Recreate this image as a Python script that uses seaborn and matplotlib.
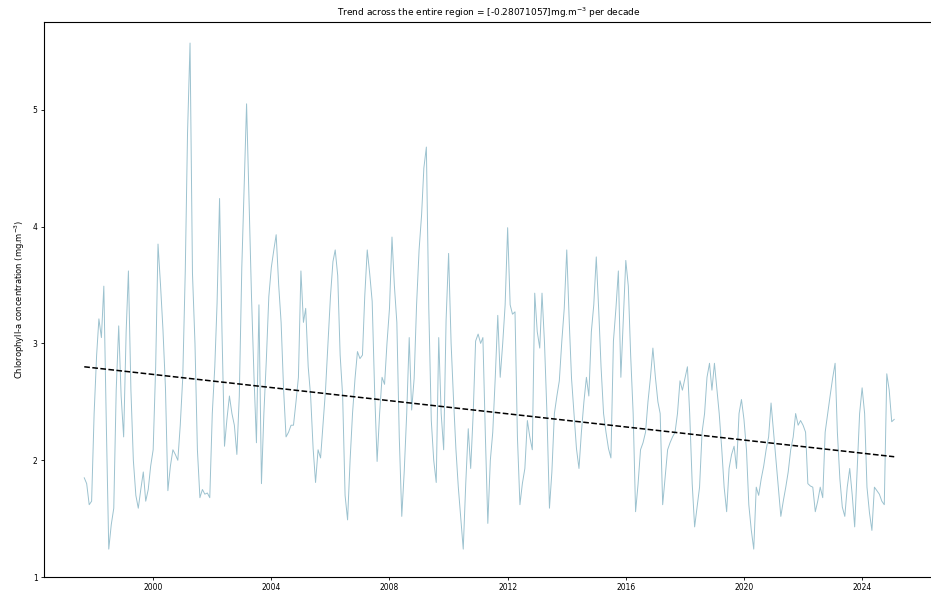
import numpy as np
import pandas as pd
import matplotlib
matplotlib.use("Agg")
import matplotlib.pyplot as plt
import matplotlib.dates as mdates
import seaborn as sns

# monthly mean chlorophyll-a, Sep 1997 - Feb 2025
start_month = "1997-09-01"
chl = [
    1.85, 1.80, 1.62, 1.65, 2.40, 2.90, 3.21, 3.05, 3.49, 2.30, 1.24, 1.45,
    1.59, 2.60, 3.15, 2.55, 2.20, 3.10, 3.62, 2.60, 2.00, 1.70, 1.59, 1.75,
    1.90, 1.65, 1.75, 1.95, 2.09, 2.80, 3.85, 3.50, 3.12, 2.62, 1.74, 1.95,
    2.09, 2.05, 2.00, 2.30, 2.71, 3.62, 4.80, 5.57, 3.60, 3.00, 2.09, 1.68,
    1.75, 1.71, 1.72, 1.68, 2.40, 2.80, 3.34, 4.24, 3.10, 2.12, 2.35, 2.55,
    2.40, 2.30, 2.05, 2.55, 3.65, 4.40, 5.05, 4.20, 3.40, 2.71, 2.15, 3.33,
    1.80, 2.40, 2.87, 3.40, 3.65, 3.80, 3.93, 3.50, 3.18, 2.60, 2.20, 2.24,
    2.30, 2.30, 2.50, 2.71, 3.62, 3.18, 3.30, 2.80, 2.55, 2.10, 1.81, 2.09,
    2.02, 2.30, 2.60, 3.00, 3.40, 3.70, 3.80, 3.58, 2.90, 2.55, 1.70, 1.49,
    2.00, 2.40, 2.70, 2.93, 2.87, 2.90, 3.40, 3.80, 3.60, 3.36, 2.60, 1.99,
    2.40, 2.71, 2.65, 3.00, 3.30, 3.91, 3.50, 3.18, 2.20, 1.52, 1.90, 2.40,
    3.05, 2.43, 2.70, 3.33, 3.80, 4.10, 4.50, 4.68, 3.30, 2.34, 2.00, 1.81,
    3.05, 2.40, 2.09, 3.20, 3.77, 3.00, 2.55, 2.10, 1.77, 1.50, 1.24, 1.80,
    2.27, 1.93, 2.40, 3.02, 3.08, 3.00, 3.05, 2.20, 1.46, 2.00, 2.24, 2.71,
    3.24, 2.71, 3.00, 3.33, 3.99, 3.33, 3.25, 3.27, 2.20, 1.62, 1.80, 1.93,
    2.34, 2.20, 2.09, 3.43, 3.10, 2.96, 3.43, 3.00, 2.40, 1.59, 1.90, 2.40,
    2.55, 2.68, 3.02, 3.30, 3.80, 3.18, 2.70, 2.40, 2.10, 1.93, 2.24, 2.50,
    2.71, 2.55, 3.10, 3.33, 3.74, 3.27, 2.80, 2.40, 2.24, 2.10, 2.02, 3.02,
    3.30, 3.62, 2.71, 3.20, 3.71, 3.49, 2.90, 2.40, 1.56, 1.80, 2.09, 2.15,
    2.24, 2.50, 2.71, 2.96, 2.71, 2.50, 2.40, 1.62, 1.85, 2.09, 2.15, 2.20,
    2.24, 2.40, 2.68, 2.60, 2.70, 2.80, 2.40, 1.80, 1.43, 1.60, 1.77, 2.24,
    2.40, 2.71, 2.83, 2.60, 2.83, 2.60, 2.40, 2.10, 1.77, 1.56, 1.93, 2.05,
    2.12, 1.93, 2.40, 2.52, 2.35, 2.09, 1.62, 1.40, 1.24, 1.77, 1.70, 1.84,
    1.95, 2.09, 2.20, 2.49, 2.24, 2.00, 1.77, 1.52, 1.65, 1.77, 1.90, 2.09,
    2.20, 2.40, 2.30, 2.34, 2.30, 2.24, 1.80, 1.78, 1.77, 1.56, 1.65, 1.77,
    1.68, 2.24, 2.40, 2.55, 2.70, 2.83, 2.24, 1.84, 1.60, 1.52, 1.77, 1.93,
    1.70, 1.43, 1.93, 2.40, 2.62, 2.40, 1.77, 1.55, 1.40, 1.77, 1.74, 1.71,
    1.65, 1.62, 2.74, 2.60, 2.33, 2.35,
]

# linear trend (value at first month, slope per decade)
trend_start = 2.80
trend_per_decade = -0.28071057

dates = pd.date_range(start_month, periods=len(chl), freq="MS")
years = (dates - dates[0]).days / 365.25
trend = trend_start + trend_per_decade / 10 * years

df = pd.DataFrame({"date": dates, "chl": chl, "trend": trend})

fig = plt.figure(figsize=(9.31, 5.95), dpi=100)
ax = fig.add_axes([0.047, 0.03, 0.957, 0.933])

sns.lineplot(data=df, x="date", y="chl", color="#9cc2cf", linewidth=0.7, ax=ax)
sns.lineplot(data=df, x="date", y="trend", color="black", linewidth=1.1,
             linestyle="--", ax=ax)

ax.set_ylim(1.0, 5.75)
ax.set_yticks([1, 2, 3, 4, 5])
ax.xaxis.set_major_locator(mdates.YearLocator(4))
ax.xaxis.set_major_formatter(mdates.DateFormatter("%Y"))
ax.tick_params(labelsize=5.5, length=2.5, width=0.6, pad=2)
for s in ax.spines.values():
    s.set_linewidth(0.8)

ax.set_xlabel("")
ax.set_ylabel("Chlorophyll-a concentration (mg.m$^{-3}$)", fontsize=6)
ax.set_title("Trend across the entire region = [-0.28071057]mg.m$^{-3}$ per decade",
             fontsize=6.5, pad=4)

fig.savefig("out.png", dpi=100)
